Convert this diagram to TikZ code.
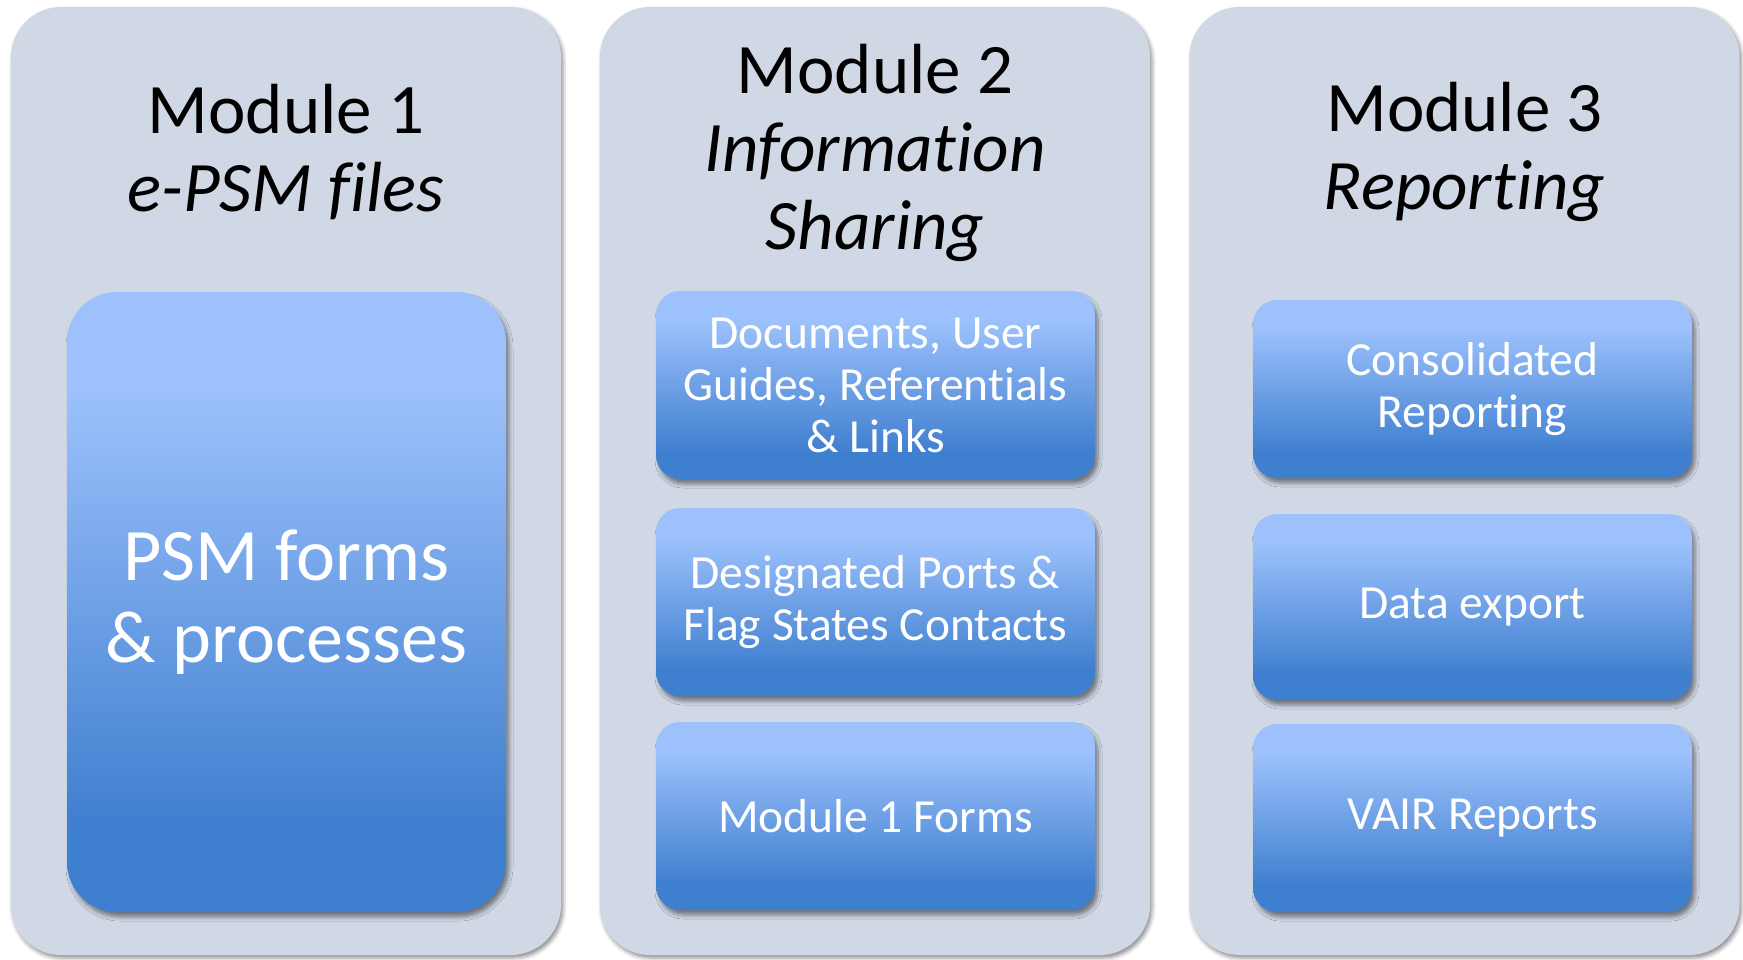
\documentclass[tikz,border=0pt]{standalone}
\usepackage{fontspec}
\setmainfont{Carlito}[Ligatures={CommonOff}]
\usetikzlibrary{shadows.blur}
\definecolor{panelfill}{HTML}{D0D8E6}
\definecolor{btop}{HTML}{9CC1FC}
\definecolor{bbot}{HTML}{3F7FCF}
\pgfdeclareverticalshading{boxgrad}{100bp}{color(0bp)=(bbot); color(25bp)=(bbot); color(32bp)=(bbot); color(67bp)=(btop); color(75bp)=(btop); color(100bp)=(btop)}
\tikzset{
  panel/.style={fill=panelfill, draw=none, rounded corners=50pt, minimum width=550pt, minimum height=948pt, inner sep=0pt,
    blur shadow={shadow xshift=2pt, shadow yshift=-3pt, shadow blur radius=4pt, shadow opacity=45}},
  titletext/.style={font=\fontsize{71}{78}\selectfont, align=center, text=black, inner sep=0pt},
  modbox/.style={shading=boxgrad, draw=none, rounded corners=24pt, minimum width=439pt, inner sep=0pt,
    text=white, align=center, font=\fontsize{47.5}{52}\selectfont,
    blur shadow={shadow xshift=3pt, shadow yshift=-5pt, shadow blur radius=4pt, shadow opacity=45}},
  bigbox/.style={modbox, rounded corners=50pt, font=\fontsize{74}{82}\selectfont}
}
\begin{document}
\begin{tikzpicture}[x=1pt,y=-1pt]
\useasboundingbox (0,0) rectangle (1743,960);
% panels
\node[panel] (p1) at (286,481) {};
\node[panel] (p2) at (875,481) {};
\node[panel] (p3) at (1464.5,481) {};
% titles
\node[titletext] (t1) at (286,152) {Module 1\\\itshape e-PSM files};
\node[titletext] (t2) at (875,153) {Module 2\\\itshape Information\\\itshape Sharing};
\node[titletext] (t3) at (1464.5,152) {Module 3\\\itshape Reporting};
% module 1
\node[bigbox, minimum height=620pt] (psm) at (286.5,602) {PSM forms\\\& processes};
% module 2
\node[modbox, minimum height=188pt] (docs) at (875.5,385) {Documents, User\\Guides, Referentials\\\& Links};
\node[modbox, minimum height=188pt] (ports) at (875.5,602) {Designated Ports \&\\Flag States Contacts};
\node[modbox, minimum height=188pt] (forms) at (875.5,816) {Module 1 Forms};
% module 3
\node[modbox, minimum height=178pt] (cons) at (1472.5,389) {Consolidated\\Reporting};
\node[modbox, minimum height=186pt] (export) at (1472.5,607) {Data export};
\node[modbox, minimum height=188pt] (vair) at (1472.5,818) {VAIR Reports};
\end{tikzpicture}
\end{document}
